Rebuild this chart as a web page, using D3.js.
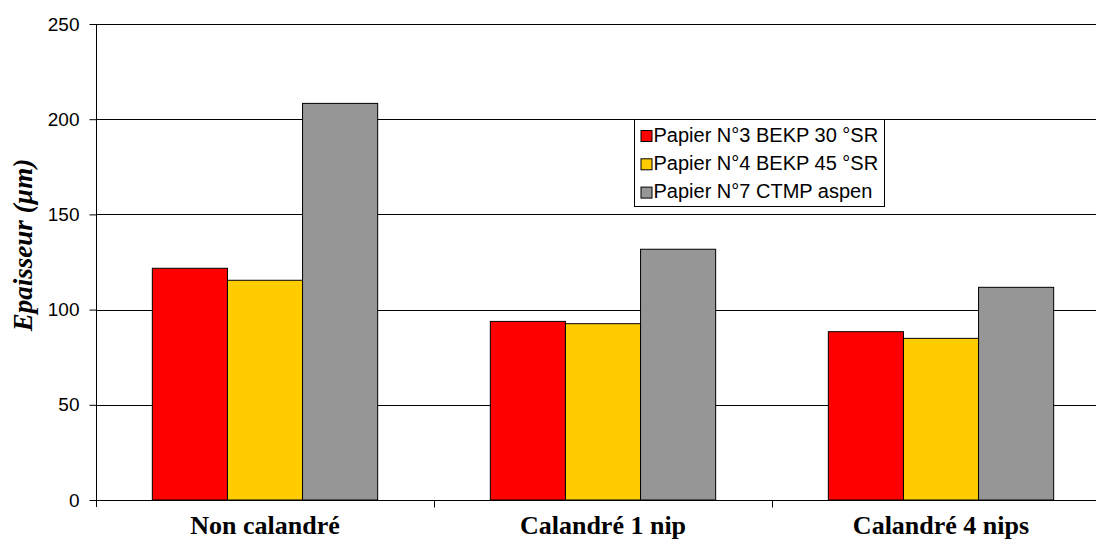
<!DOCTYPE html>
<html><head><meta charset="utf-8">
<script src="https://cdn.jsdelivr.net/npm/d3@7"></script>
<style>body{margin:0;background:#fff}svg{display:block}</style>
</head><body>
<svg id="c" width="1096" height="540"></svg>
<script>
const categories = ["Non calandré", "Calandré 1 nip", "Calandré 4 nips"];
const seriesNames = ["Papier N°3 BEKP 30 °SR", "Papier N°4 BEKP 45 °SR", "Papier N°7 CTMP aspen"];
const seriesColors = ["#FF0000", "#FFCC00", "#969696"];
const s1 = [121.7, 93.8, 88.4];
const s2 = [115.4, 92.6, 84.9];
const s3 = [208.3, 131.7, 111.7];
const yTicks = [0, 50, 100, 150, 200, 250];
const series = [s1, s2, s3];

const svg = d3.select("#c");
const m = {left: 96, top: 24, bottom: 500, right: 1110};
const x = d3.scaleBand().domain(categories).range([m.left, m.right]);
const y = d3.scaleLinear().domain([0, 250]).range([m.bottom, m.top]);
const groupW = x.bandwidth() / 1.5;
const xs = d3.scaleBand().domain(d3.range(3)).range([0, groupW]);

// gridlines
svg.append("g").selectAll("line").data(yTicks.filter(d => d > 0)).join("line")
  .attr("x1", m.left).attr("x2", 1096)
  .attr("y1", d => Math.round(y(d)) + 0.5).attr("y2", d => Math.round(y(d)) + 0.5)
  .attr("stroke", "#000").attr("stroke-width", 1);

// bars
series.forEach((s, i) => {
  svg.append("g").selectAll("rect").data(s).join("rect")
    .attr("x", (d, j) => x(categories[j]) + (x.bandwidth() - groupW) / 2 + xs(i))
    .attr("y", d => y(d))
    .attr("width", xs.bandwidth())
    .attr("height", d => y(0) - y(d))
    .attr("fill", seriesColors[i])
    .attr("stroke", "#000").attr("stroke-width", 1);
});

// y axis
const ya = svg.append("g").attr("transform", `translate(${m.left + 0.5},0)`)
  .call(d3.axisLeft(y).tickValues(yTicks).tickSize(7).tickPadding(10).tickFormat(d3.format("d")));
ya.select(".domain").attr("d", `M0,${m.top}V${m.bottom + 7}`).attr("stroke", "#000");
ya.selectAll("text").attr("font-family", "Liberation Sans, Arial, sans-serif").attr("font-size", 19).attr("fill", "#000");
ya.selectAll(".tick line").attr("stroke", "#000");

// x axis
const xa = svg.append("g").attr("transform", `translate(0,${m.bottom + 0.5})`);
xa.append("line").attr("x1", m.left).attr("x2", 1096).attr("stroke", "#000");
xa.selectAll("line.t").data(categories.slice(1)).join("line").attr("class", "t")
  .attr("x1", d => Math.round(x(d)) + 0.5).attr("x2", d => Math.round(x(d)) + 0.5)
  .attr("y1", 0).attr("y2", 7).attr("stroke", "#000");
xa.selectAll("text").data(categories).join("text")
  .attr("x", d => x(d) + x.bandwidth() / 2).attr("y", 33)
  .attr("text-anchor", "middle")
  .attr("font-family", "Liberation Serif, 'Times New Roman', serif")
  .attr("font-weight", "bold").attr("font-size", 26).text(d => d);

// y title
svg.append("text")
  .attr("transform", "translate(32,245) rotate(-90)")
  .attr("text-anchor", "middle")
  .attr("font-family", "Liberation Serif, 'Times New Roman', serif")
  .attr("font-weight", "bold").attr("font-style", "italic").attr("font-size", 27)
  .text("Epaisseur (µm)");

// legend
const lg = svg.append("g").attr("transform", "translate(634.5,119.5)");
lg.append("rect").attr("width", 250).attr("height", 87).attr("fill", "#fff").attr("stroke", "#000");
seriesNames.forEach((n, i) => {
  const yy = 22 + i * 28.3;
  lg.append("rect").attr("x", 6.5).attr("y", yy - 11).attr("width", 11).attr("height", 11)
    .attr("fill", seriesColors[i]).attr("stroke", "#000");
  lg.append("text").attr("x", 19).attr("y", yy)
    .attr("font-family", "Liberation Sans, Arial, sans-serif").attr("font-size", 20)
    .text(n);
});
</script>
</body></html>
